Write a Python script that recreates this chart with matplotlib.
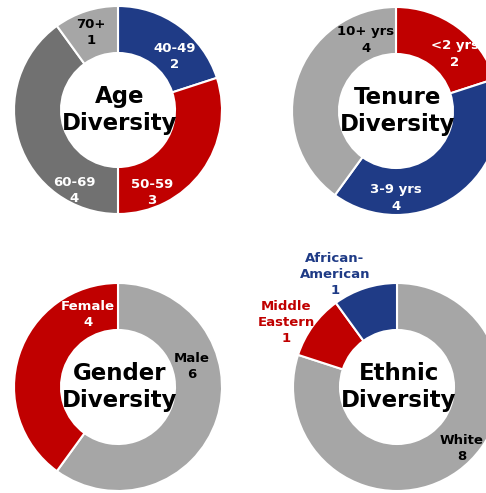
import matplotlib
matplotlib.use('Agg')
import matplotlib.pyplot as plt

# colours
BLUE = '#1F3B86'
RED = '#C00000'
DARK_GREY = '#717171'
LIGHT_GREY = '#A6A6A6'

# data
age_labels = ['40-49', '50-59', '60-69', '70+']
age_counts = [2, 3, 4, 1]

tenure_labels = ['<2 yrs', '3-9 yrs', '10+ yrs']
tenure_counts = [2, 4, 4]

gender_labels = ['Male', 'Female']
gender_counts = [6, 4]

ethnic_labels = ['White', 'Middle\nEastern', 'African-\nAmerican']
ethnic_counts = [8, 1, 1]

W, H = 486, 493
fig = plt.figure(figsize=(W / 100, H / 100), dpi=100)
ax = fig.add_axes([0, 0, 1, 1])

R = 104
RING = 47


def donut(cx, cy, counts, labels, colors, title, label_pos, label_colors):
    # cx, cy in pixels from top-left
    y = H - cy
    ax.pie(counts, colors=colors, startangle=90, counterclock=False,
           radius=R, center=(cx, y), frame=True,
           wedgeprops=dict(width=RING, edgecolor='white', linewidth=1.5))
    ax.text(cx + 2, y, title, ha='center', va='center', fontsize=16.5,
            fontweight='bold', color='black', linespacing=1.25)
    for lab, n, (dx, dy), c in zip(labels, counts, label_pos, label_colors):
        ax.text(cx + dx, y - dy, f'{lab}\n{n}', ha='center', va='center',
                fontsize=9.5, fontweight='bold', color=c, linespacing=1.3)


donut(118, 110, age_counts, age_labels,
      [BLUE, RED, DARK_GREY, LIGHT_GREY], 'Age\nDiversity',
      [(57, -53), (34, 83), (-44, 81), (-27, -78)],
      ['white', 'white', 'white', 'black'])

donut(396, 111, tenure_counts, tenure_labels,
      [RED, BLUE, LIGHT_GREY], 'Tenure\nDiversity',
      [(59, -57), (0, 87), (-30, -71)],
      ['white', 'white', 'black'])

donut(118, 387, gender_counts, gender_labels,
      [LIGHT_GREY, RED], 'Gender\nDiversity',
      [(74, -20), (-30, -72)],
      ['black', 'white'])

donut(397, 387, ethnic_counts, ethnic_labels,
      [LIGHT_GREY, RED, BLUE], 'Ethnic\nDiversity',
      [(65, 62), (-111, -64), (-62, -113)],
      ['black', RED, BLUE])

ax.set_xlim(0, W)
ax.set_ylim(0, H)
ax.set_aspect('auto')
ax.axis('off')

fig.savefig('out.png', dpi=100, facecolor='white')
